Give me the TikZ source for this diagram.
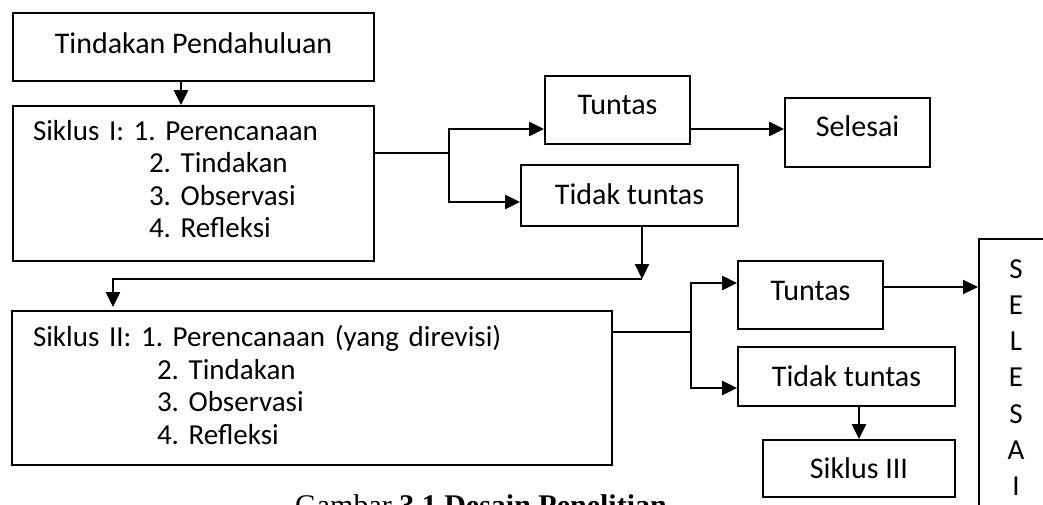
\documentclass[tikz,border=0pt]{standalone}
\usepackage{fontspec}
\setmainfont{Carlito}
\newfontfamily\capfont{Liberation Serif}
\usetikzlibrary{arrows.meta}
\begin{document}
\frenchspacing
\begin{tikzpicture}[x=1pt,y=-1pt,
  box/.style={draw, line width=1.8pt, inner sep=0pt, font=\fontsize{30}{32.5}\selectfont\frenchspacing},
  one/.style={box, text height=19.3pt, text depth=#1},
  one/.default=0pt,
  multi/.style={box, align=left, inner xsep=20pt, font=\fontsize{29}{32.5}\selectfont\frenchspacing},
  ln/.style={line width=2.2pt},
  arr/.style={line width=2.2pt, -{Triangle[length=15pt,width=14pt]}},
]
\clip (0,0) rectangle (1043,505);
\fill[white] (0,0) rectangle (1043,505);

% boxes
\node[one=6pt, minimum width=361pt, minimum height=68pt] (pend) at (193.5,47) {Tindakan Pendahuluan};
\node[multi, minimum width=361pt, minimum height=155pt, text width=321pt] (s1) at (193.5,183.5)
  {Siklus I: 1. Perencanaan\\
   \hspace*{116pt}2. Tindakan\\
   \hspace*{116pt}3. Observasi\\
   \hspace*{116pt}4. Refleksi\rule[-9pt]{0pt}{0pt}};
\node[one=10pt, minimum width=145pt, minimum height=68pt] (t1) at (617.5,110) {Tuntas};
\node[one=2pt, minimum width=217pt, minimum height=61pt] (tt1) at (629.5,195.5) {Tidak tuntas};
\node[one=11pt, minimum width=145pt, minimum height=69pt] (sel) at (857.5,132.5) {Selesai};
\node[multi, inner xsep=21pt, minimum width=600pt, minimum height=154pt, text width=558pt] (s2) at (312,388)
  {Siklus II: 1. Perencanaan (yang direvisi)\\
   \hspace*{124pt}2. Tindakan\\
   \hspace*{124pt}3. Observasi\\
   \hspace*{124pt}4. Refleksi\rule[-6pt]{0pt}{0pt}};
\node[one=8pt, minimum width=145pt, minimum height=68pt] (t2) at (810.5,295) {Tuntas};
\node[one=0pt, minimum width=217pt, minimum height=59pt] (tt2) at (846.5,376.5) {Tidak tuntas};
\node[one=0pt, minimum width=192pt, minimum height=57pt] (s3) at (859,468.5) {Siklus III};
\node[box, anchor=north west, minimum width=74pt, minimum height=277pt, align=center,
      font=\fontsize{29}{36.2}\selectfont] (fin) at (978,238) {S\\E\\L\\E\\S\\A\\I};

% caption (cut by the frame, as in the reference)
\node[anchor=base west, inner sep=0pt, font=\capfont\fontsize{30}{36}\selectfont] (cap) at (295,515)
  {Gambar \textbf{3.1 Desain Penelitian}};

% connectors
\coordinate (a1) at (181,0);
\draw[arr] (pend.south -| a1) -- (s1.north -| a1);

\coordinate (b1) at (449,153);
\coordinate (b1t) at (449,129);
\coordinate (b1b) at (449,202);
\draw[ln] (s1.east |- b1) -- (b1);
\draw[arr] (b1) |- (t1.west |- b1t);
\draw[arr] (b1) |- (tt1.west |- b1b);
\draw[arr] (t1.east |- b1t) -- (sel.west |- b1t);

\coordinate (c1) at (642,279);
\coordinate (c2) at (113,279);
\draw[arr] (tt1.south -| c1) -- (c1);
\draw[arr, shorten >=3pt] (c1) -- (c2) -- (s2.north -| c2);

\coordinate (b2) at (691,332);
\coordinate (b2t) at (691,283);
\coordinate (b2b) at (691,388);
\draw[ln] (s2.east |- b2) -- (b2);
\draw[arr] (b2) |- (t2.west |- b2t);
\draw[arr] (b2) |- (tt2.west |- b2b);

\coordinate (d1) at (900,287);
\draw[arr] (t2.east |- d1) -- (fin.west |- d1);
\draw[arr] (s3.north |- tt2.south) -- (s3.north);
\end{tikzpicture}
\end{document}
